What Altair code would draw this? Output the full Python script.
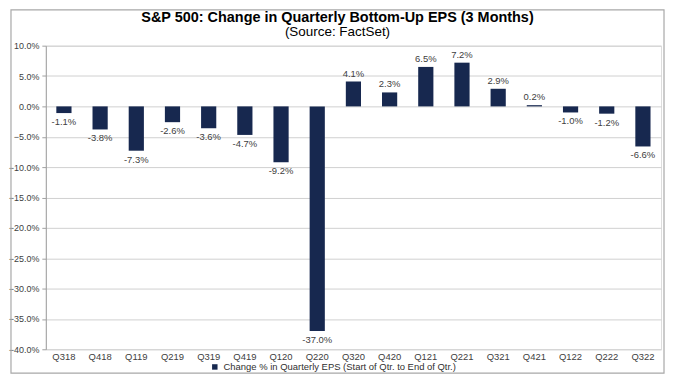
import altair as alt
import pandas as pd

quarters = ["Q318", "Q418", "Q119", "Q219", "Q319", "Q419", "Q120", "Q220", "Q320",
            "Q420", "Q121", "Q221", "Q321", "Q421", "Q122", "Q222", "Q322"]
values = [-1.1, -3.8, -7.3, -2.6, -3.6, -4.7, -9.2, -37.0, 4.1,
          2.3, 6.5, 7.2, 2.9, 0.2, -1.0, -1.2, -6.6]
y_ticks = [10, 5, 0, -5, -10, -15, -20, -25, -30, -35, -40]
series_name = "Change % in Quarterly EPS (Start of Qtr. to End of Qtr.)"
title_text = "S&P 500: Change in Quarterly Bottom-Up EPS (3 Months)"
subtitle_text = "(Source: FactSet)"

df = pd.DataFrame({"q": quarters, "v": values, "s": series_name})
df["lbl"] = [f"{v:.1f}%" for v in values]

W, H = 618, 305
FONT = "Liberation Sans"
NAVY = "#17284f"

x = alt.X("q:N", sort=quarters, title=None,
          scale=alt.Scale(paddingInner=0.58, paddingOuter=0.29),
          axis=alt.Axis(labelAngle=0, labelFontSize=9.5, labelColor="#404040", labelFont=FONT,
                        domain=False, ticks=False, labelPadding=2))
y = alt.Y("v:Q", title=None,
          scale=alt.Scale(domain=[-40, 10], nice=False, zero=False),
          axis=alt.Axis(values=y_ticks, labelExpr="format(datum.value, '.1f') + '%'",
                        labelOverlap=False, tickCount=11,
                        labelFontSize=9, labelColor="#404040", labelFont=FONT,
                        domainColor="#a0a0a0", tickColor="#a0a0a0", tickSize=4,
                        labelPadding=3, gridColor="#d0d0d0", gridWidth=1))

base = alt.Chart(df)

bars = base.mark_bar(color=NAVY).encode(
    x=x, y=y,
    y2=alt.datum(0),
    color=alt.Color("s:N", scale=alt.Scale(range=[NAVY]),
                    legend=alt.Legend(title=None, orient="none", legendX=165, legendY=318,
                                      symbolType="square", symbolSize=30, labelFontSize=9.5,
                                      labelLimit=400, labelFont=FONT, labelColor="#303030",
                                      symbolStrokeWidth=0)),
)

pos_lbl = base.transform_filter("datum.v >= 0").mark_text(
    baseline="bottom", dy=-3, fontSize=9.5, font=FONT, color="#404040"
).encode(x=alt.X("q:N", sort=quarters), y="v:Q", text="lbl:N")

neg_lbl = base.transform_filter("datum.v < 0").mark_text(
    baseline="top", dy=4, fontSize=9.5, font=FONT, color="#404040"
).encode(x=alt.X("q:N", sort=quarters), y="v:Q", text="lbl:N")

border = alt.Chart(pd.DataFrame({"a": [0]})).mark_rect(
    fill=None, stroke="#a8a8a8", strokeWidth=1.2
).encode(x=alt.value(-35), x2=alt.value(621), y=alt.value(-36), y2=alt.value(329))

title = alt.Chart(pd.DataFrame({"t": [title_text]})).mark_text(
    fontSize=14.5, fontWeight="bold", font=FONT, color="#000000", baseline="middle"
).encode(x=alt.value(293), y=alt.value(-28), text="t:N")

subtitle = alt.Chart(pd.DataFrame({"t": [subtitle_text]})).mark_text(
    fontSize=13.5, font=FONT, color="#000000", baseline="middle"
).encode(x=alt.value(293), y=alt.value(-14), text="t:N")

chart = alt.layer(bars, pos_lbl, neg_lbl, border, title, subtitle).properties(
    width=W, height=H, padding=0
).configure_view(stroke=None).configure(background="white")

chart.save("out.html", embed_options={"renderer": "svg", "actions": False})
